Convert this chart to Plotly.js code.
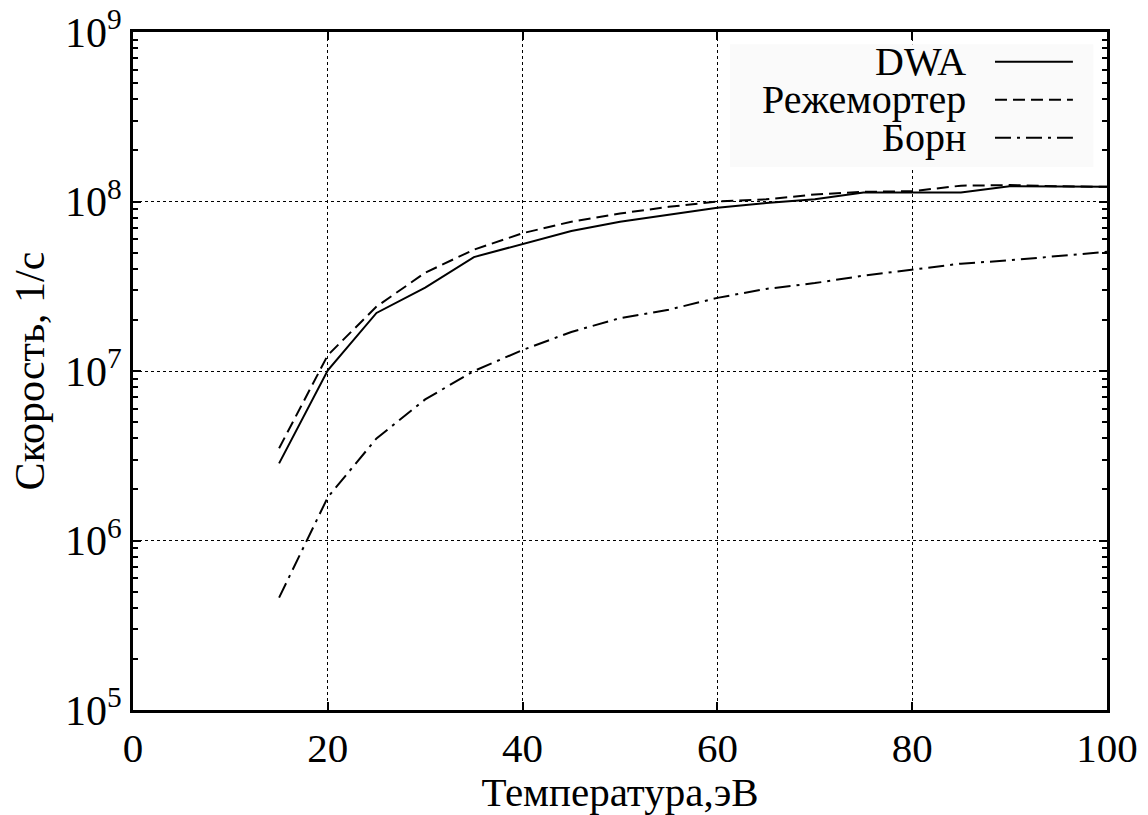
<!DOCTYPE html>
<html><head><meta charset="utf-8">
<script src="https://cdn.plot.ly/plotly-3.0.1.min.js"></script>
<style>html,body{margin:0;padding:0;background:#fff}#c{width:1148px;height:815px}</style>
</head><body><div id="c"></div>
<script>
const temperature = [15,20,25,30,35,40,45,50,55,60,65,70,75,80,85,90,95,100];
const dwa = [2.85e6,1.01e7,2.2e7,3.1e7,4.7e7,5.6e7,6.7e7,7.6e7,8.4e7,9.2e7,9.8e7,1.03e8,1.13e8,1.13e8,1.13e8,1.23e8,1.22e8,1.22e8];
const regemorter = [3.5e6,1.24e7,2.4e7,3.8e7,5.2e7,6.5e7,7.6e7,8.5e7,9.3e7,1.0e8,1.03e8,1.1e8,1.14e8,1.15e8,1.24e8,1.25e8,1.23e8,1.22e8];
const born = [4.6e5,1.8e6,4.0e6,6.8e6,1.0e7,1.33e7,1.7e7,2.05e7,2.3e7,2.7e7,3.05e7,3.3e7,3.65e7,3.95e7,4.3e7,4.5e7,4.75e7,5.05e7];
const seriesNames = ['DWA','Режемортер','Борн'];
const seriesDash = ['solid','12px,6px','16px,6px,3px,6px'];
const xTicks = [0,20,40,60,80,100];
const yTicks = [1e5,1e6,1e7,1e8,1e9];
const yTickText = ['10<sup>5</sup>','10<sup>6</sup>','10<sup>7</sup>','10<sup>8</sup>','10<sup>9</sup>'];

const font = 'Liberation Serif';
const ys = [dwa, regemorter, born];
const traces = ys.map((y,i)=>({x:temperature,y:y,mode:'lines',name:seriesNames[i],
  line:{color:'black',width:2,dash:seriesDash[i]},showlegend:false}));

// custom legend (text left of line sample)
const rowsY = [0.956,0.900,0.844];
const shapes = [{type:'rect',xref:'paper',yref:'paper',x0:0.613,x1:0.986,y0:0.801,y1:0.982,
  fillcolor:'#fafafa',line:{width:0},layer:'above'}];
const annotations = [];
seriesNames.forEach((n,i)=>{
  shapes.push({type:'line',xref:'paper',yref:'paper',x0:0.885,x1:0.965,y0:rowsY[i],y1:rowsY[i],
    line:{color:'black',width:2,dash:seriesDash[i]},layer:'above'});
  annotations.push({xref:'paper',yref:'paper',x:0.857,y:rowsY[i],xanchor:'right',yanchor:'middle',
    text:n,showarrow:false,font:{family:font,size:40,color:'black'}});
});

const layout = {
  width:1148,height:815,
  margin:{l:133,r:41,t:32,b:105},
  paper_bgcolor:'white',plot_bgcolor:'white',
  font:{family:font,color:'black',size:40},
  xaxis:{range:[0,100],tickvals:xTicks,ticktext:xTicks.map(String),
    ticks:'inside',ticklen:8,tickwidth:2,tickcolor:'black',
    showline:true,linecolor:'black',linewidth:3,mirror:'allticks',
    showgrid:true,gridcolor:'black',griddash:'dot',gridwidth:1,zeroline:false,
    tickfont:{family:font,size:41},
    title:{text:'Температура,эВ',font:{family:font,size:41},standoff:4}},
  yaxis:{type:'log',range:[5,9],tickvals:yTicks,ticktext:yTickText,
    ticks:'inside',ticklen:8,tickwidth:2,tickcolor:'black',
    showline:true,linecolor:'black',linewidth:3,mirror:'allticks',
    showgrid:true,gridcolor:'black',griddash:'dot',gridwidth:1,zeroline:false,
    tickfont:{family:font,size:42},
    minor:{ticks:'inside',ticklen:5,tickwidth:2,tickcolor:'black',dtick:'D1',showgrid:false},
    title:{text:'Скорость, 1/с',font:{family:font,size:42},standoff:8}},
  shapes:shapes,annotations:annotations,showlegend:false
};
Plotly.newPlot('c',traces,layout,{displayModeBar:false,staticPlot:true});
</script></body></html>
